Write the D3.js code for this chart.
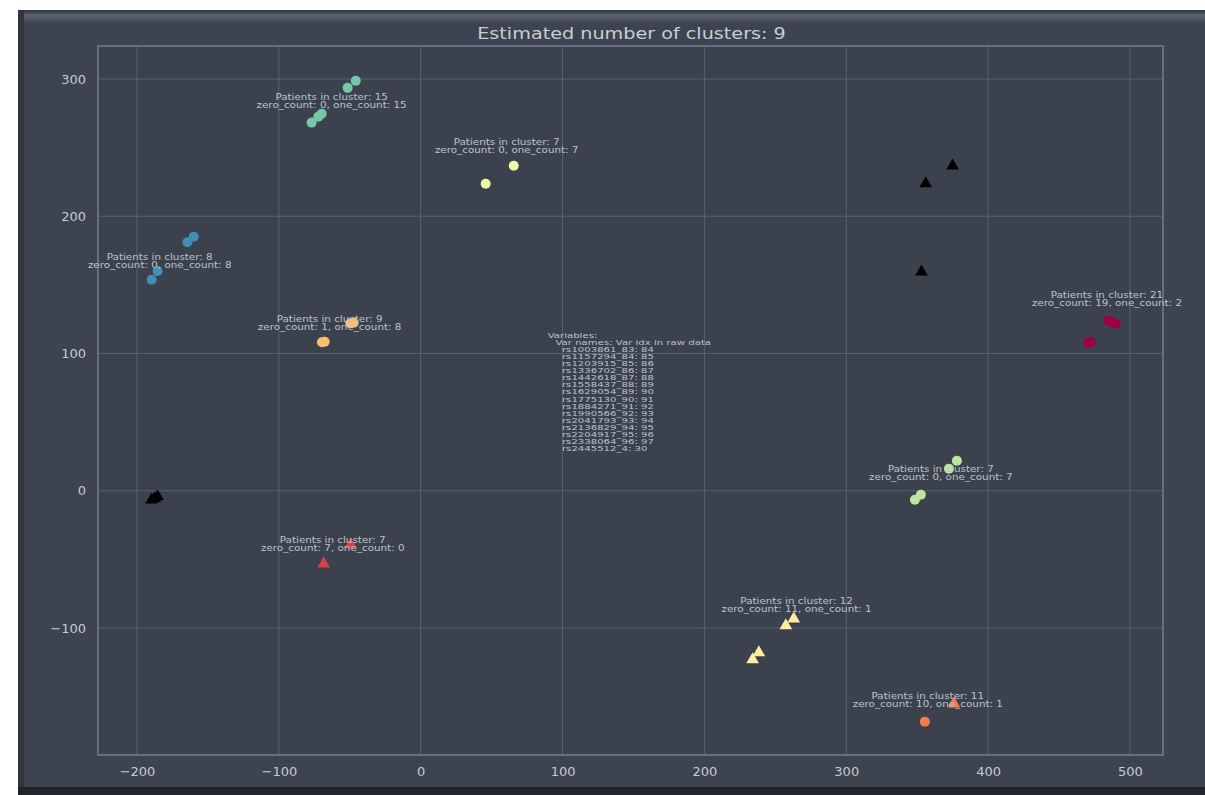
<!DOCTYPE html>
<html>
<head>
<meta charset="utf-8">
<script src="https://cdn.jsdelivr.net/npm/d3@7"></script>
<style>
  html, body { margin: 0; padding: 0; background: #ffffff; }
  svg { display: block; font-family: "DejaVu Sans", sans-serif; }
</style>
</head>
<body>
<svg id="chart" width="1205" height="795"></svg>
<script>
// ---- data -------------------------------------------------------------
const titleText = "Estimated number of clusters: 9";
const xTicks = [-200, -100, 0, 100, 200, 300, 400, 500];
const yTicks = [-100, 0, 100, 200, 300];

// cluster points in projected coordinates; shape: "o" circle, "^" triangle
const cluster0 = [[484.5, 123.8, "o"], [490, 121.6, "o"], [487, 123, "o"], [470.4, 107.8, "o"], [472.5, 108.2, "o"]];
const cluster1 = [[-49.4, -40, "^"], [-68.4, -54, "^"]];
const cluster2 = [[375.9, -155.9, "^"], [355.4, -168.2, "o"]];
const cluster3 = [[-47.2, 122.4, "o"], [-49.6, 122, "o"], [-67.7, 108.5, "o"], [-69.6, 108.2, "o"]];
const cluster4 = [[263, -94, "^"], [257.4, -99, "^"], [238.4, -118.7, "^"], [234, -123.8, "^"]];
const cluster5 = [[45.8, 223.6, "o"], [65.6, 236.7, "o"]];
const cluster6 = [[378, 21.8, "o"], [372.4, 16, "o"], [352.6, -2.9, "o"], [348.4, -6.6, "o"]];
const cluster7 = [[-45.8, 298.6, "o"], [-51.5, 293.5, "o"], [-69.8, 274.6, "o"], [-72.2, 272.4, "o"], [-76.9, 268.2, "o"]];
const cluster8 = [[-160, 185, "o"], [-164.5, 181, "o"], [-185.5, 160, "o"], [-189.7, 153.7, "o"]];
const noisePoints = [[356, 223, "^"], [375, 236, "^"], [353, 158.8, "^"], [-189.7, -7.3, "^"], [-185.5, -5, "^"], [-187.5, -6.4, "^"]];

const clusterPoints = [cluster0, cluster1, cluster2, cluster3, cluster4, cluster5, cluster6, cluster7, cluster8];
const clusterSizes = [21, 7, 11, 9, 12, 7, 7, 15, 8];
const zeroCounts = [19, 7, 10, 1, 11, 0, 0, 0, 0];
const oneCounts = [2, 0, 1, 8, 1, 7, 7, 15, 8];
// anchor of each two-line annotation (data units)
const labelAnchors = [[483.8, 139], [-62, -39.3], [357.5, -153], [-64.2, 121.6], [265, -83.8],
                      [60.6, 250.5], [366.7, 12.4], [-62.8, 283.3], [-184, 166.8]];

const variableNames = ["rs1003861_83", "rs1157294_84", "rs1203915_85", "rs1336702_86", "rs1442618_87",
                       "rs1558437_88", "rs1629054_89", "rs1775130_90", "rs1884271_91", "rs1990566_92",
                       "rs2041793_93", "rs2136829_94", "rs2204917_95", "rs2338064_96", "rs2445512_4"];
const variableIdx = [84, 85, 86, 87, 88, 89, 90, 91, 92, 93, 94, 95, 96, 97, 30];

// ---- layout -----------------------------------------------------------
const svg = d3.select("#chart");
const frame = { x: 18, y: 10, w: 1187, h: 780 };
const plot = { left: 98, right: 1163, top: 46, bottom: 755 };

const x = d3.scaleLinear().domain([-227.5, 523.3]).range([plot.left, plot.right]);
const y = d3.scaleLinear().domain([-192.5, 324]).range([plot.bottom, plot.top]);

// colours: Spectral spread over clusters + noise (last slot), noise drawn black
const nLabels = clusterPoints.length + 1;
const colors = d3.range(clusterPoints.length).map(i => d3.interpolateSpectral(i / (nLabels - 1)));

// ---- figure frame ------------------------------------------------------
const defs = svg.append("defs");
const topGrad = defs.append("linearGradient").attr("id", "topBevel").attr("x1", 0).attr("x2", 0).attr("y1", 0).attr("y2", 1);
topGrad.append("stop").attr("offset", "0%").attr("stop-color", "#2e333b");
topGrad.append("stop").attr("offset", "40%").attr("stop-color", "#5b626d");
topGrad.append("stop").attr("offset", "100%").attr("stop-color", "#3d4450");

svg.append("rect").attr("x", frame.x).attr("y", frame.y).attr("width", frame.w).attr("height", frame.h)
  .attr("fill", "#3d4450");
svg.append("rect").attr("x", frame.x).attr("y", frame.y).attr("width", frame.w).attr("height", 14)
  .attr("fill", "url(#topBevel)");
svg.append("rect").attr("x", frame.x).attr("y", frame.y).attr("width", 6).attr("height", frame.h)
  .attr("fill", "#30353e");
svg.append("rect").attr("x", frame.x).attr("y", frame.y + frame.h - 3).attr("width", frame.w).attr("height", 795 - (frame.y + frame.h - 3))
  .attr("fill", "#22262c");

// ---- axes background & grid ------------------------------------------
svg.append("rect").attr("x", plot.left).attr("y", plot.top)
  .attr("width", plot.right - plot.left).attr("height", plot.bottom - plot.top)
  .attr("fill", "#3b424e");

const grid = svg.append("g").attr("stroke", "#566177").attr("stroke-width", 1);
grid.selectAll("line.vx").data(xTicks).join("line")
  .attr("x1", d => x(d)).attr("x2", d => x(d)).attr("y1", plot.top).attr("y2", plot.bottom);
grid.selectAll("line.hy").data(yTicks).join("line")
  .attr("y1", d => y(d)).attr("y2", d => y(d)).attr("x1", plot.left).attr("x2", plot.right);

svg.append("rect").attr("x", plot.left).attr("y", plot.top)
  .attr("width", plot.right - plot.left).attr("height", plot.bottom - plot.top)
  .attr("fill", "none").attr("stroke", "#6f7d94").attr("stroke-width", 1.5);

// tick labels via d3 axes (tick lines hidden)
const xAxis = svg.append("g").attr("transform", `translate(0,${plot.bottom})`)
  .call(d3.axisBottom(x).tickValues(xTicks).tickSize(0).tickPadding(12).tickFormat(d3.format("d")));
const yAxis = svg.append("g").attr("transform", `translate(${plot.left},0)`)
  .call(d3.axisLeft(y).tickValues(yTicks).tickSize(0).tickPadding(12).tickFormat(d3.format("d")));
[xAxis, yAxis].forEach(a => {
  a.select(".domain").remove();
  a.selectAll("text").attr("fill", "#c5cbd4").attr("font-size", 13).attr("font-family", "DejaVu Sans, sans-serif");
});
xAxis.selectAll("text").text(d => d < 0 ? "\u2212" + Math.abs(d) : d);
yAxis.selectAll("text").text(d => d < 0 ? "\u2212" + Math.abs(d) : d);

// ---- title -------------------------------------------------------------
svg.append("text")
  .attr("transform", `translate(${(plot.left + plot.right) / 2 + 1},39) scale(1.2,1)`)
  .attr("text-anchor", "middle").attr("fill", "#c9ced6").attr("font-size", 16)
  .text(titleText);

// ---- markers -----------------------------------------------------------
const triangle = d3.symbol().type(d3.symbolTriangle).size(70);
function drawPoints(points, color) {
  const g = svg.append("g");
  g.selectAll("circle").data(points.filter(p => p[2] === "o")).join("circle")
    .attr("cx", p => x(p[0])).attr("cy", p => y(p[1])).attr("r", 5)
    .attr("fill", color);
  g.selectAll("path").data(points.filter(p => p[2] === "^")).join("path")
    .attr("d", triangle)
    .attr("transform", p => `translate(${x(p[0])},${y(p[1]) - 1})`)
    .attr("fill", color);
}
drawPoints(noisePoints, "#000000");
clusterPoints.forEach((pts, i) => drawPoints(pts, colors[i]));

// ---- cluster annotations ----------------------------------------------
const ann = svg.append("g").attr("fill", "#bcc3cd").attr("font-size", 8.5).attr("text-anchor", "middle");
labelAnchors.forEach((a, i) => {
  const t = ann.append("text").attr("transform", `translate(${x(a[0])},${y(a[1])}) scale(1.22,1)`);
  t.append("tspan").attr("x", 0).attr("dy", "-0.25em").text(`Patients in cluster: ${clusterSizes[i]}`);
  t.append("tspan").attr("x", 0).attr("dy", "0.98em").text(`zero_count: ${zeroCounts[i]}, one_count: ${oneCounts[i]}`);
});

// ---- variable listing in the middle ------------------------------------
const vx = x(89.5), vy = y(111.5), lh = 7.1;
const vars = svg.append("g").attr("fill", "#bcc3cd").attr("font-size", 7.8)
  .attr("transform", `translate(${vx},${vy}) scale(1.3,1)`);
vars.append("text").attr("x", 0).attr("y", 0).text("Variables:");
vars.append("text").attr("x", 6).attr("y", lh).text("Var names: Var idx in raw data");
variableNames.forEach((nm, i) => {
  vars.append("text").attr("x", 11).attr("y", lh * (i + 2)).text(`${nm}: ${variableIdx[i]}`);
});
</script>
</body>
</html>
